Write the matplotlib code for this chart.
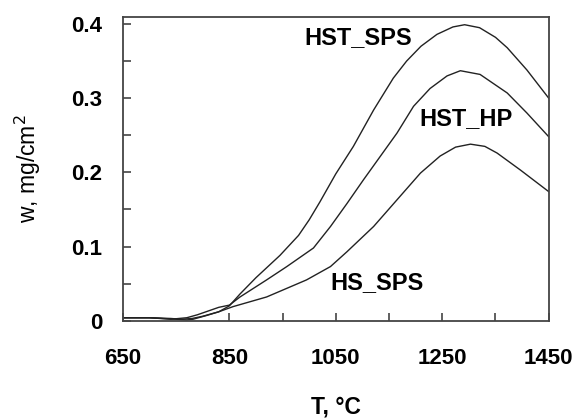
import numpy as np
import matplotlib
matplotlib.use("Agg")
import matplotlib.pyplot as plt

plt.rcParams['font.family'] = ['Liberation Sans', 'DejaVu Sans']

# --- data ---
t_sps = [650, 700, 740, 760, 780, 800, 830, 850, 870, 900, 945, 980, 1000, 1020, 1050,
         1083, 1121, 1158, 1183, 1210, 1240, 1270, 1292, 1320, 1350, 1372, 1409, 1450]
w_hst_sps = [0.004, 0.004, 0.003, 0.002, 0.003, 0.006, 0.012, 0.020, 0.036, 0.058, 0.088, 0.115,
             0.136, 0.160, 0.198, 0.235, 0.284, 0.327, 0.350, 0.370, 0.386, 0.396, 0.399,
             0.395, 0.382, 0.368, 0.338, 0.300]

t_hp = [650, 700, 740, 770, 790, 810, 830, 850, 870, 920, 958, 1008, 1040, 1071, 1102,
        1133, 1165, 1196, 1227, 1259, 1284, 1321, 1372, 1409, 1450]
w_hst_hp = [0.004, 0.004, 0.002, 0.004, 0.008, 0.013, 0.018, 0.021, 0.032, 0.055, 0.073,
            0.098, 0.127, 0.158, 0.190, 0.221, 0.253, 0.289, 0.313, 0.330, 0.337, 0.332,
            0.307, 0.280, 0.248]

t_hs = [650, 700, 750, 770, 782, 807, 830, 857, 920, 995, 1040, 1071, 1121, 1165, 1209,
        1246, 1275, 1303, 1330, 1353, 1397, 1450]
w_hs_sps = [0.004, 0.004, 0.002, 0.001, 0.002, 0.007, 0.012, 0.019, 0.032, 0.055, 0.073,
            0.093, 0.127, 0.163, 0.199, 0.222, 0.234, 0.238, 0.235, 0.226, 0.203, 0.174]

labels = ["HST_SPS", "HST_HP", "HS_SPS"]
label_pos = [(1092, 0.382), (1295, 0.273), (1128, 0.051)]

fig = plt.figure(figsize=(5.77, 4.19), dpi=100)
ax = fig.add_axes([0.213, 0.2346, 0.738, 0.7241])

for t, w in [(t_sps, w_hst_sps), (t_hp, w_hst_hp), (t_hs, w_hs_sps)]:
    ax.plot(t, w, color='#222222', lw=1.0)

for lab, (x, y) in zip(labels, label_pos):
    ax.text(x, y, lab, fontsize=17, fontweight='bold', ha='center', va='center')

ax.set_xlim(650, 1450)
ax.set_ylim(0, 0.409)
ax.set_xticks([650, 850, 1050, 1250, 1450])
ax.set_xticks([950, 1150, 1350], minor=True)
ax.set_yticks([0, 0.1, 0.2, 0.3, 0.4])
ax.set_yticklabels(['0', '0.1', '0.2', '0.3', '0.4'])
ax.set_yticks(np.arange(0.05, 0.4, 0.1), minor=True)
ax.tick_params(which='both', direction='in', length=6, width=1.2, color='#444444',
               labelsize=16)
ax.tick_params(axis='x', pad=20)
ax.tick_params(axis='y', pad=15)
for lbl in ax.get_xticklabels() + ax.get_yticklabels():
    lbl.set_fontweight('bold')
for s in ax.spines.values():
    s.set_linewidth(1.3)
    s.set_color('#444444')

ax.set_xlabel("T, °C", fontsize=16.5, fontweight='bold', labelpad=19)
ax.set_ylabel("w, mg/cm$^2$", fontsize=16.5, labelpad=20)

fig.savefig("out.png", dpi=100)
